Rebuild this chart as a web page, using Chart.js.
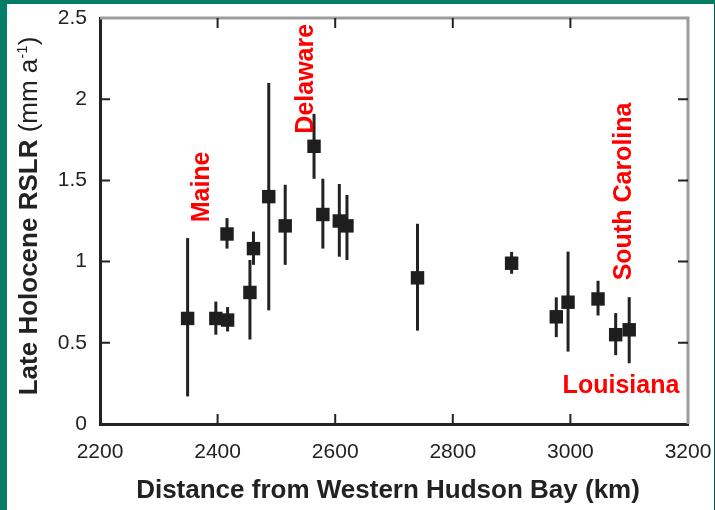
<!DOCTYPE html>
<html lang="en">
<head>
<meta charset="UTF-8">
<title>Late Holocene RSLR</title>
<script src="https://cdn.jsdelivr.net/npm/chart.js@4.4.1/dist/chart.umd.min.js"></script>
<style>
    body {
        margin: 0;
        background: #067d66;
        width: 715px;
        height: 510px;
        overflow: hidden;
    }
    .panel {
        position: absolute;
        left: 7px;
        top: 4px;
        width: 707px;
        height: 506px;
        background: #fff;
        border-right: 1px solid #0b4d3f;
    }
</style>
</head>
<body>
<div class="panel"><canvas id="chart" width="707" height="506"></canvas></div>
<script>
    // distance from western Hudson Bay (km) and late Holocene RSLR (mm/yr)
    const distances = [2349, 2397, 2417, 2416, 2455, 2461, 2487, 2515, 2564, 2579, 2607, 2620, 2740, 2900, 2976, 2996, 3047, 3077, 3100];
    const rslr      = [0.65, 0.65, 0.64, 1.17, 0.81, 1.08, 1.40, 1.22, 1.71, 1.29, 1.25, 1.22, 0.90, 0.99, 0.66, 0.75, 0.77, 0.55, 0.58];
    const errLow    = [0.17, 0.55, 0.57, 1.08, 0.52, 0.98, 0.70, 0.98, 1.51, 1.08, 1.03, 1.01, 0.575, 0.925, 0.535, 0.446, 0.668, 0.424, 0.374];
    const errHigh   = [1.145, 0.754, 0.72, 1.268, 1.01, 1.185, 2.10, 1.473, 1.91, 1.51, 1.478, 1.41, 1.233, 1.06, 0.78, 1.062, 0.882, 0.683, 0.781];

    const xTicks = [2200, 2400, 2600, 2800, 3000, 3200];
    const yTicks = [0, 0.5, 1, 1.5, 2, 2.5];

    // site names and where they sit, in data units
    const siteNames   = ['Maine', 'Delaware', 'South Carolina', 'Louisiana'];
    const siteAnchors = [[2385, 1.46], [2562, 2.126], [3103, 1.432], [3086, 0.193]];
    const siteVertical = [true, true, true, false];

    const FONT = "'Liberation Sans', Arial, Helvetica, sans-serif";

    const extras = {
        id: 'extras',
        beforeDatasetsDraw(chart) {
            const { ctx, scales: { x, y } } = chart;
            ctx.save();
            ctx.strokeStyle = '#222';
            ctx.lineWidth = 3;
            distances.forEach((d, i) => {
                const px = x.getPixelForValue(d);
                ctx.beginPath();
                ctx.moveTo(px, y.getPixelForValue(errLow[i]));
                ctx.lineTo(px, y.getPixelForValue(errHigh[i]));
                ctx.stroke();
            });
            ctx.restore();
        },
        afterDraw(chart) {
            const { ctx, chartArea: a, scales: { x, y } } = chart;
            ctx.save();

            // grey top and right frame
            ctx.strokeStyle = '#9c9c9c';
            ctx.lineWidth = 3;
            ctx.beginPath();
            ctx.moveTo(a.left, a.top);
            ctx.lineTo(a.right, a.top);
            ctx.lineTo(a.right, a.bottom);
            ctx.stroke();

            // inward ticks on all four sides
            ctx.strokeStyle = '#222';
            ctx.lineWidth = 2;
            xTicks.slice(1, -1).forEach(v => {
                const px = x.getPixelForValue(v);
                ctx.beginPath();
                ctx.moveTo(px, a.bottom); ctx.lineTo(px, a.bottom - 10);
                ctx.moveTo(px, a.top); ctx.lineTo(px, a.top + 10);
                ctx.stroke();
            });
            yTicks.slice(1, -1).forEach(v => {
                const py = y.getPixelForValue(v);
                ctx.beginPath();
                ctx.moveTo(a.left, py); ctx.lineTo(a.left + 10, py);
                ctx.moveTo(a.right, py); ctx.lineTo(a.right - 10, py);
                ctx.stroke();
            });

            // axis titles
            ctx.fillStyle = '#222';
            ctx.textBaseline = 'alphabetic';
            ctx.textAlign = 'center';
            ctx.font = 'bold 26px ' + FONT;
            ctx.fillText('Distance from Western Hudson Bay (km)', (a.left + a.right) / 2 - 6, a.bottom + 74);

            const parts = [
                ['Late Holocene RSLR ', 'bold 26px ', 0],
                ['(mm a', '26px ', 0],
                ['-1', '15px ', -10],
                [')', '26px ', 0]
            ];
            let total = 0;
            parts.forEach(p => { ctx.font = p[1] + FONT; total += ctx.measureText(p[0]).width; });
            ctx.translate(a.left - 63, (a.top + a.bottom) / 2 - 5);
            ctx.rotate(-Math.PI / 2);
            ctx.textAlign = 'left';
            let cx = -total / 2;
            parts.forEach(p => {
                ctx.font = p[1] + FONT;
                ctx.fillText(p[0], cx, p[2]);
                cx += ctx.measureText(p[0]).width;
            });
            ctx.setTransform(1, 0, 0, 1, 0, 0);

            // red site names
            ctx.fillStyle = '#ff0000';
            ctx.font = 'bold 25px ' + FONT;
            ctx.textAlign = 'center';
            siteNames.forEach((name, i) => {
                const px = x.getPixelForValue(siteAnchors[i][0]);
                const py = y.getPixelForValue(siteAnchors[i][1]);
                ctx.save();
                ctx.translate(px, py);
                if (siteVertical[i]) ctx.rotate(-Math.PI / 2);
                ctx.fillText(name, 0, 0);
                ctx.restore();
            });
            ctx.restore();
        }
    };

    new Chart(document.getElementById('chart'), {
        type: 'scatter',
        data: {
            datasets: [{
                data: distances.map((d, i) => ({ x: d, y: rslr[i] })),
                pointStyle: 'rect',
                pointRadius: 9.5,
                backgroundColor: '#1e1e1e',
                borderWidth: 0
            }]
        },
        options: {
            responsive: false,
            devicePixelRatio: 1,
            animation: false,
            events: [],
            layout: { padding: { top: 14, right: 26, left: 0, bottom: 0 } },
            plugins: { legend: { display: false }, tooltip: { enabled: false } },
            scales: {
                x: {
                    type: 'linear',
                    min: 2200,
                    max: 3200,
                    afterFit: s => { s.height = 86; s.paddingLeft = 0; s.paddingRight = 0; },
                    afterBuildTicks: s => { s.ticks = xTicks.map(v => ({ value: v })); },
                    grid: { display: false, drawTicks: false },
                    border: { display: true, color: '#222', width: 3 },
                    ticks: {
                        padding: 16,
                        color: '#222',
                        font: { family: FONT, size: 21 },
                        callback: v => String(v)
                    }
                },
                y: {
                    min: 0,
                    max: 2.5,
                    afterFit: s => { s.width = 93; s.paddingTop = 0; s.paddingBottom = 0; },
                    afterBuildTicks: s => { s.ticks = yTicks.map(v => ({ value: v })); },
                    grid: { display: false, drawTicks: false },
                    border: { display: true, color: '#222', width: 3 },
                    ticks: {
                        padding: 13,
                        color: '#222',
                        font: { family: FONT, size: 21 },
                        callback: v => String(v)
                    }
                }
            }
        },
        plugins: [extras]
    });
</script>
</body>
</html>
